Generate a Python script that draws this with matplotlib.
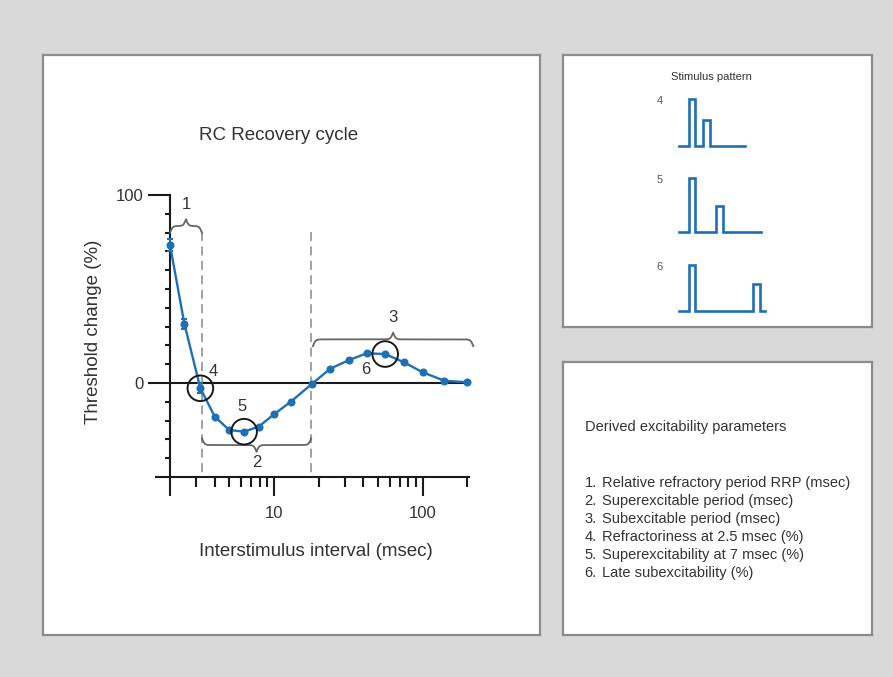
import numpy as np
import matplotlib
matplotlib.use("Agg")
import matplotlib.pyplot as plt
from matplotlib.ticker import FixedLocator, FixedFormatter, NullFormatter
import matplotlib.transforms as mtransforms

plt.rcParams['font.family'] = ['Liberation Sans', 'DejaVu Sans']

# ---- recovery cycle data ----
interval_ms = [2, 2.5, 3.2, 4, 5, 6.3, 7.9, 10, 13, 18, 24, 32, 42, 56, 75, 100, 140, 200]
threshold_change = [73.4, 31.4, -2.8, -17.9, -25.0, -25.9, -23.2, -16.7, -9.9, -0.5,
                    7.7, 12.2, 15.8, 15.4, 11.0, 5.7, 1.2, 0.4]
error_ms = [2, 2.5, 3.2]
error_val = [3.0, 2.7, 2.7]

# highlighted points (parameter numbers 4, 5, 6)
marked_ids = ['4', '5', '6']
marked_ms = [3.2, 6.3, 56]

# brace spans (msec) and their numbers
brace_ids = ['1', '2', '3']
brace_start = [2.0, 3.28, 18.3]
brace_end = [3.28, 17.8, 219]
brace_level = [83.5, -33.0, 23.2]
brace_dir = [1, -1, 1]
divider_ms = [3.28, 17.8]

# stimulus pattern schematic (conditioning + test pulse)
pattern_ids = ['4', '5', '6']
cond_amp = [47, 54, 46]
test_amp = [26, 26, 27]
test_onset = [24, 36.7, 74]
trace_len = [65.7, 81.7, 86]

params = ["Relative refractory period RRP (msec)",
          "Superexcitable period (msec)",
          "Subexcitable period (msec)",
          "Refractoriness at 2.5 msec (%)",
          "Superexcitability at 7 msec (%)",
          "Late subexcitability (%)"]

W, H = 893, 677
BLUE = '#1f6fb5'
TXT = '#333333'
PT = 0.72  # points per pixel at 100 dpi

fig = plt.figure(figsize=(W / 100, H / 100), dpi=100, facecolor='#d9d9d9')


def px_axes(x0, y0, x1, y1, **kw):
    return fig.add_axes([x0 / W, 1 - y1 / H, (x1 - x0) / W, (y1 - y0) / H], **kw)


def panel(x0, y0, x1, y1):
    a = px_axes(x0, y0, x1, y1)
    a.set_facecolor('white')
    a.set_xticks([])
    a.set_yticks([])
    for s in a.spines.values():
        s.set_color('#8c8c8c')
        s.set_linewidth(1.6)
    return a


panel(42.5, 55, 539.5, 634.5)
pat_ax = panel(562.5, 55, 871.5, 327)
panel(562.5, 361.5, 871.5, 634.5)

# ---- main recovery-cycle axes ----
ax = px_axes(170, 195, 469, 477)
ax.set_facecolor('none')
ax.set_xscale('log')
ax.set_xlim(2, 205)
ax.set_ylim(-50, 100)
for side in ('top', 'right'):
    ax.spines[side].set_visible(False)
for side in ('left', 'bottom'):
    ax.spines[side].set_color('#1a1a1a')
    ax.spines[side].set_linewidth(1.5)

ax.xaxis.set_major_locator(FixedLocator([2, 10, 100]))
ax.xaxis.set_major_formatter(FixedFormatter(['', '10', '100']))
ax.xaxis.set_minor_locator(FixedLocator([3, 4, 5, 6, 7, 8, 9, 20, 30, 40, 50, 60, 70, 80, 90, 200]))
ax.xaxis.set_minor_formatter(NullFormatter())
ax.yaxis.set_major_locator(FixedLocator([0, 100]))
ax.yaxis.set_major_formatter(FixedFormatter(['0', '100']))
ax.yaxis.set_minor_locator(FixedLocator([-40, -30, -20, -10, 10, 20, 30, 40, 50, 60, 70, 80, 90]))
ax.yaxis.set_minor_formatter(NullFormatter())
ax.tick_params(axis='x', which='major', direction='out', length=19 * PT, width=1.5,
               color='#1a1a1a', labelsize=12, labelcolor=TXT, pad=7)
ax.tick_params(axis='x', which='minor', direction='out', length=10 * PT, width=1.5, color='#1a1a1a')
ax.tick_params(axis='y', which='major', direction='out', length=22 * PT, width=1.5,
               color='#1a1a1a', labelsize=12, labelcolor=TXT, pad=3)
ax.tick_params(axis='y', which='minor', direction='out', length=5 * PT, width=1.5, color='#1a1a1a')

# extended bottom-left corner tick
blend = mtransforms.blended_transform_factory(ax.transAxes, ax.transData)
ax.plot([-14 / 299, 0], [-50, -50], color='#1a1a1a', lw=1.5, transform=blend, clip_on=False)

ax.axhline(0, color='#1a1a1a', lw=1.5, zorder=2)

for xd in divider_ms:
    ax.plot([xd, xd], [80.5, -50], color='#9a9a9a', lw=1.3, ls=(0, (5, 3)), zorder=1, clip_on=False)

ax.errorbar(error_ms, [threshold_change[interval_ms.index(v)] for v in error_ms], yerr=error_val,
            fmt='none', ecolor=BLUE, elinewidth=1.5, capsize=2.5, capthick=1.5, zorder=3, clip_on=False)
ax.plot(interval_ms, threshold_change, '-o', color=BLUE, lw=1.7, ms=4.8, zorder=4, clip_on=False)

marked_y = [threshold_change[interval_ms.index(v)] for v in marked_ms]
ax.scatter(marked_ms, marked_y, s=340, facecolors='none', edgecolors='#1a1a1a', linewidths=1.4, zorder=5)
offsets = [(9.1, 12.2), (-1.4, 18.0), (-13.7, -10.8)]
for lab, xm, ym, off in zip(marked_ids, marked_ms, marked_y, offsets):
    ax.annotate(lab, (xm, ym), xytext=off, textcoords='offset points', ha='center', va='center',
                fontsize=12, color=TXT)

# curly braces drawn in log-x space
px_per_dec = 299 / (np.log10(205) - np.log10(2))
for lab, x0, x1, yl, d in zip(brace_ids, brace_start, brace_end, brace_level, brace_dir):
    l0, l1 = np.log10(x0), np.log10(x1)
    u = np.linspace(l0, l1, 401)
    mid = 0.5 * (l0 + l1)
    beta = px_per_dec / 1.3
    uh = np.where(u <= mid, u, 2 * mid - u)
    s = 1 / (1 + np.exp(-beta * (uh - l0))) + 1 / (1 + np.exp(-beta * (uh - mid)))
    yy = yl + d * 7.2 * (s - 1)
    ax.plot(10 ** u, yy, color='#666666', lw=1.3, clip_on=False, zorder=3)
    ax.text(10 ** mid, yl + d * 11.5 if d > 0 else yl - 9.5, lab, ha='center', va='center',
            fontsize=12, color=TXT)

fig.text(279 / W, 1 - 136 / H, 'RC Recovery cycle', ha='center', va='center', fontsize=13.5, color=TXT)
fig.text(316 / W, 1 - 551 / H, 'Interstimulus interval (msec)', ha='center', va='center',
         fontsize=13.5, color=TXT)
fig.text(93 / W, 1 - 332 / H, 'Threshold change (%)', ha='center', va='center', rotation=90,
         fontsize=13.5, color=TXT)

# ---- stimulus pattern schematic ----
pat_ax.set_xlim(0, 309)
pat_ax.set_ylim(272, 0)
baselines = [91, 176.7, 256]
x_start = 116.5
for lab, b, ca, ta, t0, L in zip(pattern_ids, baselines, cond_amp, test_amp, test_onset, trace_len):
    c0, cw, tw = 10, 5.5, 7
    xs = np.array([0, c0, c0, c0 + cw, c0 + cw, t0, t0, t0 + tw, t0 + tw, L]) + x_start
    ys = [b, b, b - ca, b - ca, b, b, b - ta, b - ta, b, b]
    pat_ax.plot(xs, ys, color=BLUE, lw=1.9, solid_joinstyle='miter')
    pat_ax.text(97.2, b - ca + 2.5, lab, ha='center', va='center', fontsize=8, color='#555555')
pat_ax.text(148.8, 21.7, 'Stimulus pattern', ha='center', va='center', fontsize=8, color=TXT)

# ---- derived parameter list ----
fig.text(584.7 / W, 1 - 427 / H, 'Derived excitability parameters', ha='left', va='center',
         fontsize=10.5, color=TXT)
for i, p in enumerate(params):
    yy = 1 - (483.3 + 18 * i) / H
    fig.text(584.7 / W, yy, f'{i + 1}.', ha='left', va='center', fontsize=10.5, color=TXT)
    fig.text(602.3 / W, yy, p, ha='left', va='center', fontsize=10.5, color=TXT)

fig.savefig('out.png', dpi=100, facecolor=fig.get_facecolor())
